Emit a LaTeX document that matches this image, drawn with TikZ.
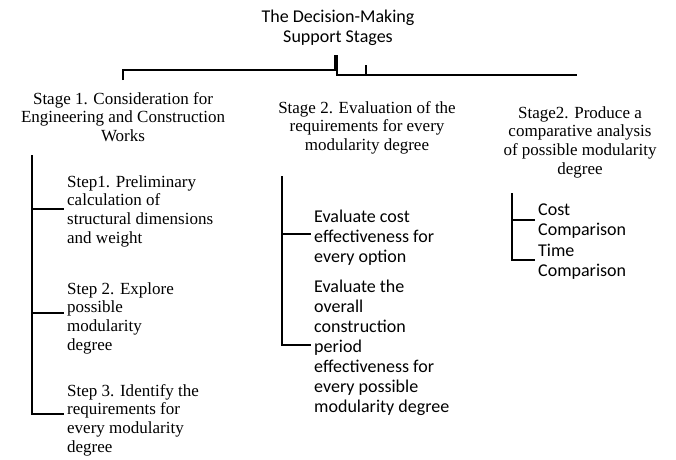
\documentclass[tikz,border=0pt]{standalone}
\usepackage{fontspec}
\newfontfamily\tmsfont{Liberation Serif}
\newfontfamily\calfont{Carlito}
\begin{document}
\begin{tikzpicture}[x=1pt,y=-1pt,
  serif/.style={font=\tmsfont\fontsize{17}{18.8}\selectfont, inner sep=0pt},
  sans/.style={font=\calfont\fontsize{18}{20}\selectfont, inner sep=0pt},
  stagebox/.style={serif, align=center, anchor=north},
  itembox/.style={serif, align=left, anchor=north west},
  sansitem/.style={sans, align=left, anchor=north west},
  treeline/.style={line width=1.3pt},
  trunk/.style={line width=2pt},
  branch/.style={line width=1.4pt, shorten >=3pt}]
\useasboundingbox (0,0) rectangle (676,459);

% title
\node[sans, align=center, anchor=north] (title) at (338,10) {The Decision-Making\\Support Stages};

% stages
\node[stagebox] (s1) at (123,92) {Stage 1. Consideration for\\Engineering and Construction\\Works};
\node[stagebox] (s2) at (367,101) {Stage 2. Evaluation of the\\requirements for every\\modularity degree};
\node[stagebox] (s3) at (580,106) {Stage2. Produce a\\comparative analysis\\of possible modularity\\degree};

% top connectors
\coordinate (ta) at (335,55);
\coordinate (tb) at (337,55);
\coordinate (c1) at (123,80);
\coordinate (c2) at (366,75);
\coordinate (c3) at (577,75);
\draw[treeline] (c1) |- (335,70) -- (ta);
\draw[treeline] (tb) |- (c3);
\draw[treeline] (c2) -- (366,65);

% stage 1 steps
\node[itembox] (st1) at (67,175) {Step1. Preliminary\\calculation of\\structural dimensions\\and weight};
\node[itembox] (st2) at (67,282) {Step 2. Explore\\possible\\modularity\\degree};
\node[itembox] (st3) at (67,384) {Step 3. Identify the\\requirements for\\every modularity\\degree};
\coordinate (k1) at (32,155);
\coordinate (k1a) at (32,209);
\coordinate (k1b) at (32,313);
\coordinate (k1c) at (32,414);
\draw[trunk] (k1) -- (32,415);
\draw[branch] (k1a) -- (k1a -| st1.west);
\draw[branch] (k1b) -- (k1b -| st2.west);
\draw[branch] (k1c) -- (k1c -| st3.west);

% stage 2 items
\node[sansitem] (ev1) at (314,210) {Evaluate cost\\effectiveness for\\every option};
\node[sansitem] (ev2) at (314,280) {Evaluate the\\overall\\construction\\period\\effectiveness for\\every possible\\modularity degree};
\coordinate (k2) at (282,176);
\coordinate (k2a) at (282,234);
\coordinate (k2b) at (282,345);
\draw[trunk] (k2) -- (282,346);
\draw[branch] (k2a) -- (k2a -| ev1.west);
\draw[branch] (k2b) -- (k2b -| ev2.west);

% stage 3 items
\node[sansitem] (cc) at (538,204) {Cost\\Comparison};
\node[sansitem] (tc) at (538,244) {Time\\Comparison};
\coordinate (k3) at (512,193);
\coordinate (k3a) at (512,220);
\coordinate (k3b) at (512,260);
\draw[trunk] (k3) -- (512,261);
\draw[branch] (k3a) -- (k3a -| cc.west);
\draw[branch] (k3b) -- (k3b -| tc.west);
\end{tikzpicture}
\end{document}
